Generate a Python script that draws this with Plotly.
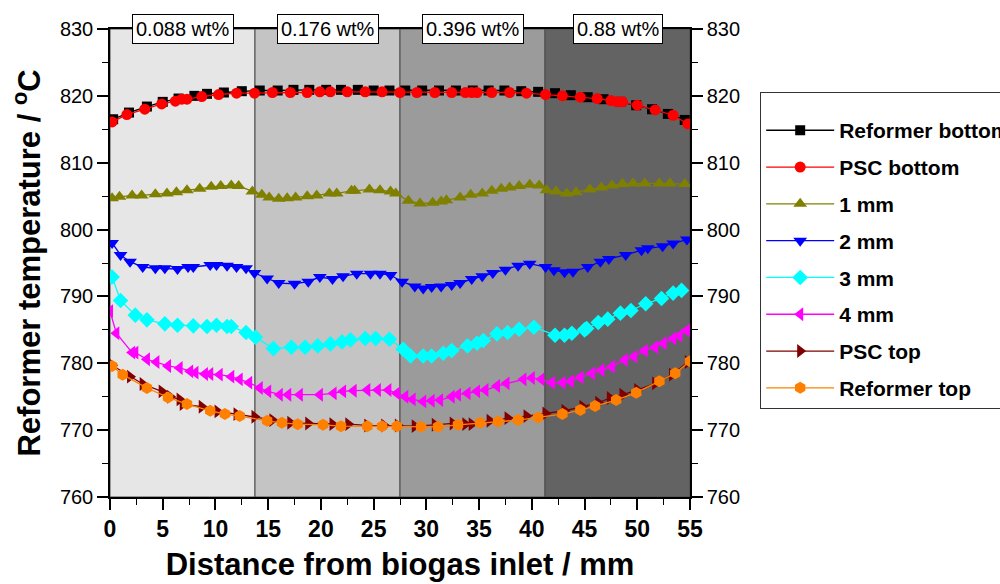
import plotly.graph_objects as go

# ---- loading zones along the reformer -------------------------------------
zone_edges = [0, 13.75, 27.5, 41.25, 55]
zone_labels = ["0.088 wt%", "0.176 wt%", "0.396 wt%", "0.88 wt%"]
zone_fills = ["#e6e6e6", "#c4c4c4", "#9b9b9b", "#636363"]

# ---- temperature profiles (distance in mm, temperature in degC) -----------
ref_bottom_x = [0.3, 1.8, 3.5, 5.0, 6.5, 8.0, 9.2, 10.8, 12.5, 14.2, 15.9, 17.4, 18.9,
                20.5, 21.9, 23.5, 25.0, 26.5, 28.0, 29.6, 31.2, 32.8, 34.4, 35.9, 37.4,
                39.0, 40.6, 42.2, 43.7, 45.3, 46.8, 48.4, 49.9, 51.4, 52.9, 54.5]
ref_bottom_y = [816.5, 817.5, 818.4, 819.1, 819.6, 820.0, 820.3, 820.5, 820.7, 820.8,
                820.8, 820.9, 820.9, 820.9, 820.9, 820.9, 820.8, 820.8, 820.8, 820.8,
                820.8, 820.8, 820.8, 820.8, 820.8, 820.7, 820.6, 820.4, 820.1, 819.8,
                819.5, 819.1, 818.6, 818.0, 817.3, 816.4]

psc_bottom_x = [0.2, 1.6, 3.3, 4.9, 6.2, 6.8, 7.3, 8.7, 10.3, 12.0, 13.7, 15.4, 17.1,
                18.7, 19.9, 20.9, 22.5, 24.2, 25.8, 27.5, 29.1, 30.8, 32.4, 33.7, 34.3,
                34.8, 36.2, 37.9, 39.5, 41.3, 42.9, 44.6, 46.2, 47.5, 48.1, 48.6, 50.0,
                51.7, 53.4, 54.8]
psc_bottom_y = [816.1, 817.2, 818.0, 818.8, 819.2, 819.5, 819.5, 819.9, 820.2, 820.4,
                820.4, 820.5, 820.5, 820.5, 820.6, 820.6, 820.6, 820.6, 820.6, 820.5,
                820.5, 820.5, 820.5, 820.5, 820.5, 820.5, 820.5, 820.5, 820.4, 820.2,
                820.0, 819.8, 819.6, 819.3, 819.1, 819.1, 818.6, 817.9, 817.1, 815.8]

mm1_x = [0.2, 0.9, 2.1, 3.0, 4.3, 5.4, 6.3, 7.3, 8.5, 9.6, 10.5, 11.5, 12.2, 13.5,
         14.4, 15.1, 16.0, 16.8, 17.6, 18.7, 19.6, 20.8, 21.5, 22.9, 23.2, 24.6, 25.6,
         26.6, 27.1, 28.3, 29.4, 30.6, 31.4, 31.9, 33.2, 34.2, 35.3, 36.2, 37.1, 37.9,
         38.8, 39.8, 40.7, 41.4, 42.3, 43.3, 44.2, 45.5, 46.6, 47.6, 48.6, 49.6, 50.7,
         52.1, 53.1, 54.5]
mm1_y = [804.7, 804.9, 805.1, 805.1, 805.3, 805.4, 805.6, 805.9, 806.1, 806.4, 806.5,
         806.6, 806.5, 805.7, 805.2, 804.8, 804.6, 804.7, 804.8, 805.0, 805.1, 805.4,
         805.4, 805.8, 805.8, 806.0, 805.9, 805.7, 805.4, 804.3, 803.9, 804.0, 804.2,
         804.4, 804.8, 805.2, 805.4, 805.8, 806.1, 806.3, 806.5, 806.7, 806.6, 805.9,
         805.7, 805.4, 805.6, 806.0, 806.3, 806.6, 806.8, 806.9, 806.9, 806.9, 806.9,
         806.8]

mm2_x = [0.2, 1.0, 1.9, 3.1, 4.3, 5.2, 6.4, 7.4, 7.9, 9.5, 10.1, 11.1, 12.0, 12.9,
         13.7, 14.9, 16.0, 17.5, 18.8, 19.9, 21.1, 22.1, 23.4, 24.7, 25.6, 26.6, 27.7,
         28.9, 29.7, 30.5, 31.4, 32.4, 33.2, 34.3, 35.3, 36.3, 37.5, 38.7, 39.8, 41.3,
         42.1, 43.1, 43.9, 45.3, 46.5, 47.3, 48.9, 50.4, 51.0, 52.4, 53.4, 54.7]
mm2_y = [798.0, 796.2, 795.2, 794.4, 794.2, 794.2, 794.1, 794.4, 794.4, 794.7, 794.7,
         794.6, 794.4, 794.2, 793.5, 792.7, 792.0, 791.9, 792.2, 792.9, 792.6, 793.0,
         793.4, 793.4, 793.4, 793.2, 792.2, 791.5, 791.2, 791.4, 791.5, 791.7, 792.0,
         792.6, 793.0, 793.5, 794.0, 794.6, 794.9, 794.4, 793.9, 793.6, 793.7, 794.4,
         795.2, 795.6, 796.2, 796.9, 797.2, 797.5, 797.9, 798.5]

mm3_x = [0.2, 1.0, 2.4, 3.5, 5.2, 6.4, 7.9, 9.2, 10.1, 11.1, 11.5, 12.9, 13.8, 15.5,
         17.2, 18.5, 19.7, 20.9, 22.0, 22.8, 24.2, 25.2, 26.5, 27.8, 28.5, 29.7, 30.5,
         31.6, 32.4, 33.9, 34.8, 35.4, 36.7, 37.7, 38.8, 40.2, 42.2, 43.1, 43.8, 45.0,
         45.2, 46.3, 47.2, 48.4, 49.4, 50.8, 52.3, 53.4, 54.2]
mm3_y = [792.9, 789.4, 787.2, 786.5, 785.9, 785.7, 785.6, 785.5, 785.7, 785.5, 785.5,
         784.6, 783.9, 782.2, 782.4, 782.4, 782.6, 782.9, 783.2, 783.5, 783.7, 783.7,
         783.6, 782.1, 781.1, 781.1, 781.1, 781.5, 781.9, 782.6, 783.0, 783.4, 784.4,
         784.6, 785.1, 785.4, 784.2, 784.2, 784.5, 785.0, 785.2, 786.1, 786.6, 787.5,
         787.9, 788.9, 789.7, 790.5, 790.9]

mm4_x = [0.0, 0.6, 2.1, 2.4, 3.5, 4.4, 5.5, 6.6, 7.6, 8.1, 9.0, 9.5, 10.4, 11.5, 12.3,
         13.2, 14.2, 15.0, 16.1, 16.9, 18.0, 19.9, 21.2, 22.1, 23.1, 24.4, 25.4, 26.4,
         27.2, 28.0, 28.7, 29.7, 30.5, 31.3, 32.4, 33.0, 33.9, 34.8, 35.6, 36.7, 37.6,
         39.2, 40.0, 40.9, 41.9, 42.9, 43.7, 44.6, 45.7, 46.6, 47.6, 48.8, 49.7, 50.7,
         51.7, 52.5, 53.4, 54.0, 54.7]
mm4_y = [787.8, 784.5, 781.6, 781.6, 780.6, 780.2, 779.6, 779.3, 778.8, 778.6, 778.4,
         778.4, 778.3, 778.0, 777.6, 777.1, 776.3, 775.8, 775.3, 775.3, 775.3, 775.3,
         775.5, 775.8, 775.9, 776.0, 776.0, 776.0, 775.5, 775.0, 774.6, 774.3, 774.4,
         774.5, 775.0, 775.3, 775.5, 775.8, 776.0, 776.6, 777.0, 777.6, 777.8, 777.6,
         777.1, 777.1, 777.3, 777.9, 778.5, 779.0, 779.5, 780.5, 781.0, 781.9, 782.4,
         783.0, 783.7, 784.1, 784.9]

psc_top_x = [0.2, 1.9, 3.1, 4.9, 5.7, 6.6, 6.9, 8.7, 10.2, 12.0, 13.7, 15.4, 17.1, 18.8,
             21.1, 22.6, 24.4, 26.0, 27.3, 28.9, 30.8, 32.5, 33.7, 34.3, 36.0, 37.7,
             39.5, 41.3, 43.1, 44.8, 46.3, 47.4, 48.6, 50.0, 51.7, 53.3, 54.8]
psc_top_y = [779.7, 778.0, 776.9, 775.8, 775.0, 774.6, 773.9, 773.5, 772.8, 772.4,
             772.0, 771.5, 771.1, 771.0, 770.9, 770.9, 770.7, 770.7, 770.7, 770.6,
             770.8, 771.0, 770.9, 770.9, 771.4, 771.8, 772.1, 772.5, 772.9, 773.5,
             774.1, 774.8, 775.3, 776.0, 777.0, 778.3, 780.2]

ref_top_x = [0.2, 1.2, 3.5, 5.5, 7.3, 9.5, 10.9, 12.3, 14.9, 16.3, 17.8, 20.2, 21.9,
             24.4, 25.8, 27.2, 29.5, 31.1, 33.0, 35.1, 36.8, 38.7, 40.6, 42.9, 44.6,
             46.0, 48.0, 49.9, 52.1, 53.6, 55.0]
ref_top_y = [779.6, 778.3, 776.3, 774.9, 773.9, 772.9, 772.4, 772.1, 771.4, 771.1,
             770.9, 770.8, 770.6, 770.6, 770.6, 770.6, 770.5, 770.5, 770.8, 771.1,
             771.3, 771.5, 771.9, 772.4, 773.0, 773.6, 774.5, 775.6, 777.3, 778.5,
             780.3]

series = [
    ("Reformer bottom", ref_bottom_x, ref_bottom_y, "#000000", "square", 10),
    ("PSC bottom", psc_bottom_x, psc_bottom_y, "#ff0000", "circle", 11),
    ("1 mm", mm1_x, mm1_y, "#808000", "triangle-up", 12),
    ("2 mm", mm2_x, mm2_y, "#0000ff", "triangle-down", 12),
    ("3 mm", mm3_x, mm3_y, "#00ffff", "diamond", 12),
    ("4 mm", mm4_x, mm4_y, "#ff00ff", "triangle-left", 12),
    ("PSC top", psc_top_x, psc_top_y, "#800000", "triangle-right", 12),
    ("Reformer top", ref_top_x, ref_top_y, "#ff8000", "hexagon", 12),
]

SANS = "Liberation Sans"
BLACK = "#000000"

fig = go.Figure()

for i, (name, xs, ys, color, symbol, size) in enumerate(series):
    fig.add_trace(go.Scatter(
        x=xs, y=ys, name=name, mode="lines+markers",
        legendgroup=f"g{i}",
        line=dict(color=color, width=1.3),
        marker=dict(symbol=symbol, size=size, color=color, line=dict(width=0)),
    ))

# invisible trace so the right-hand temperature axis is rendered
fig.add_trace(go.Scatter(x=[0], y=[760], yaxis="y2", mode="markers",
                         marker=dict(opacity=0), showlegend=False, hoverinfo="skip"))

# shaded loading zones and their labels
for x0, x1, fill, label in zip(zone_edges[:-1], zone_edges[1:], zone_fills, zone_labels):
    fig.add_shape(type="rect", xref="x", yref="y", x0=x0, x1=x1, y0=760, y1=830,
                  fillcolor=fill, line=dict(color="#4a4a4a", width=1), layer="below")
    fig.add_annotation(x=(x0 + x1) / 2, y=1.0, xref="x", yref="paper",
                       text=label, showarrow=False, yanchor="middle",
                       font=dict(family=SANS, size=20, color=BLACK),
                       bgcolor="#ffffff", bordercolor=BLACK, borderwidth=1,
                       borderpad=3)

tick_font = dict(family=SANS, size=20, color=BLACK)
major = dict(ticks="outside", ticklen=11, tickwidth=1.5, tickcolor=BLACK)
minor_style = dict(ticks="outside", ticklen=6, tickwidth=1.2, tickcolor=BLACK,
                   showgrid=False)

fig.update_layout(
    width=1000, height=584,
    margin=dict(l=110, r=310, t=29, b=87, autoexpand=False),
    paper_bgcolor="#ffffff", plot_bgcolor="#ffffff",
    showlegend=True,
    legend=dict(x=1.121, y=0.865, xanchor="left", yanchor="top",
                bgcolor="#ffffff", bordercolor="#333333", borderwidth=1,
                font=dict(family=SANS, size=21, color=BLACK, weight="bold"),
                title=dict(text=" ", font=dict(size=13)),
                tracegroupgap=6.5, traceorder="grouped", itemwidth=68),
    xaxis=dict(
        range=[0, 55], tickmode="array", tickvals=list(range(0, 56, 5)),
        **major, minor=dict(dtick=2.5, **minor_style),
        showline=True, linecolor=BLACK, linewidth=1.5, mirror=True,
        showgrid=False, zeroline=False,
        tickfont=dict(family=SANS, size=23, color=BLACK, weight="bold"),
        title=dict(text="Distance from biogas inlet / mm", standoff=12,
                   font=dict(family=SANS, size=31, color=BLACK, weight="bold")),
    ),
    yaxis=dict(
        range=[760, 830], tickmode="array", tickvals=list(range(760, 831, 10)),
        **major, minor=dict(dtick=5, **minor_style),
        showline=True, linecolor=BLACK, linewidth=1.5,
        showgrid=False, zeroline=False, tickfont=tick_font,
        title=dict(text="Reformer temperature / <sup>o</sup>C", standoff=10,
                   font=dict(family=SANS, size=31, color=BLACK, weight="bold")),
    ),
    yaxis2=dict(
        range=[760, 830], overlaying="y", side="right",
        tickmode="array", tickvals=list(range(760, 831, 10)),
        **major, minor=dict(dtick=5, **minor_style),
        showline=True, linecolor=BLACK, linewidth=1.5,
        showgrid=False, zeroline=False, tickfont=tick_font,
    ),
)

fig.write_html("out.html")
